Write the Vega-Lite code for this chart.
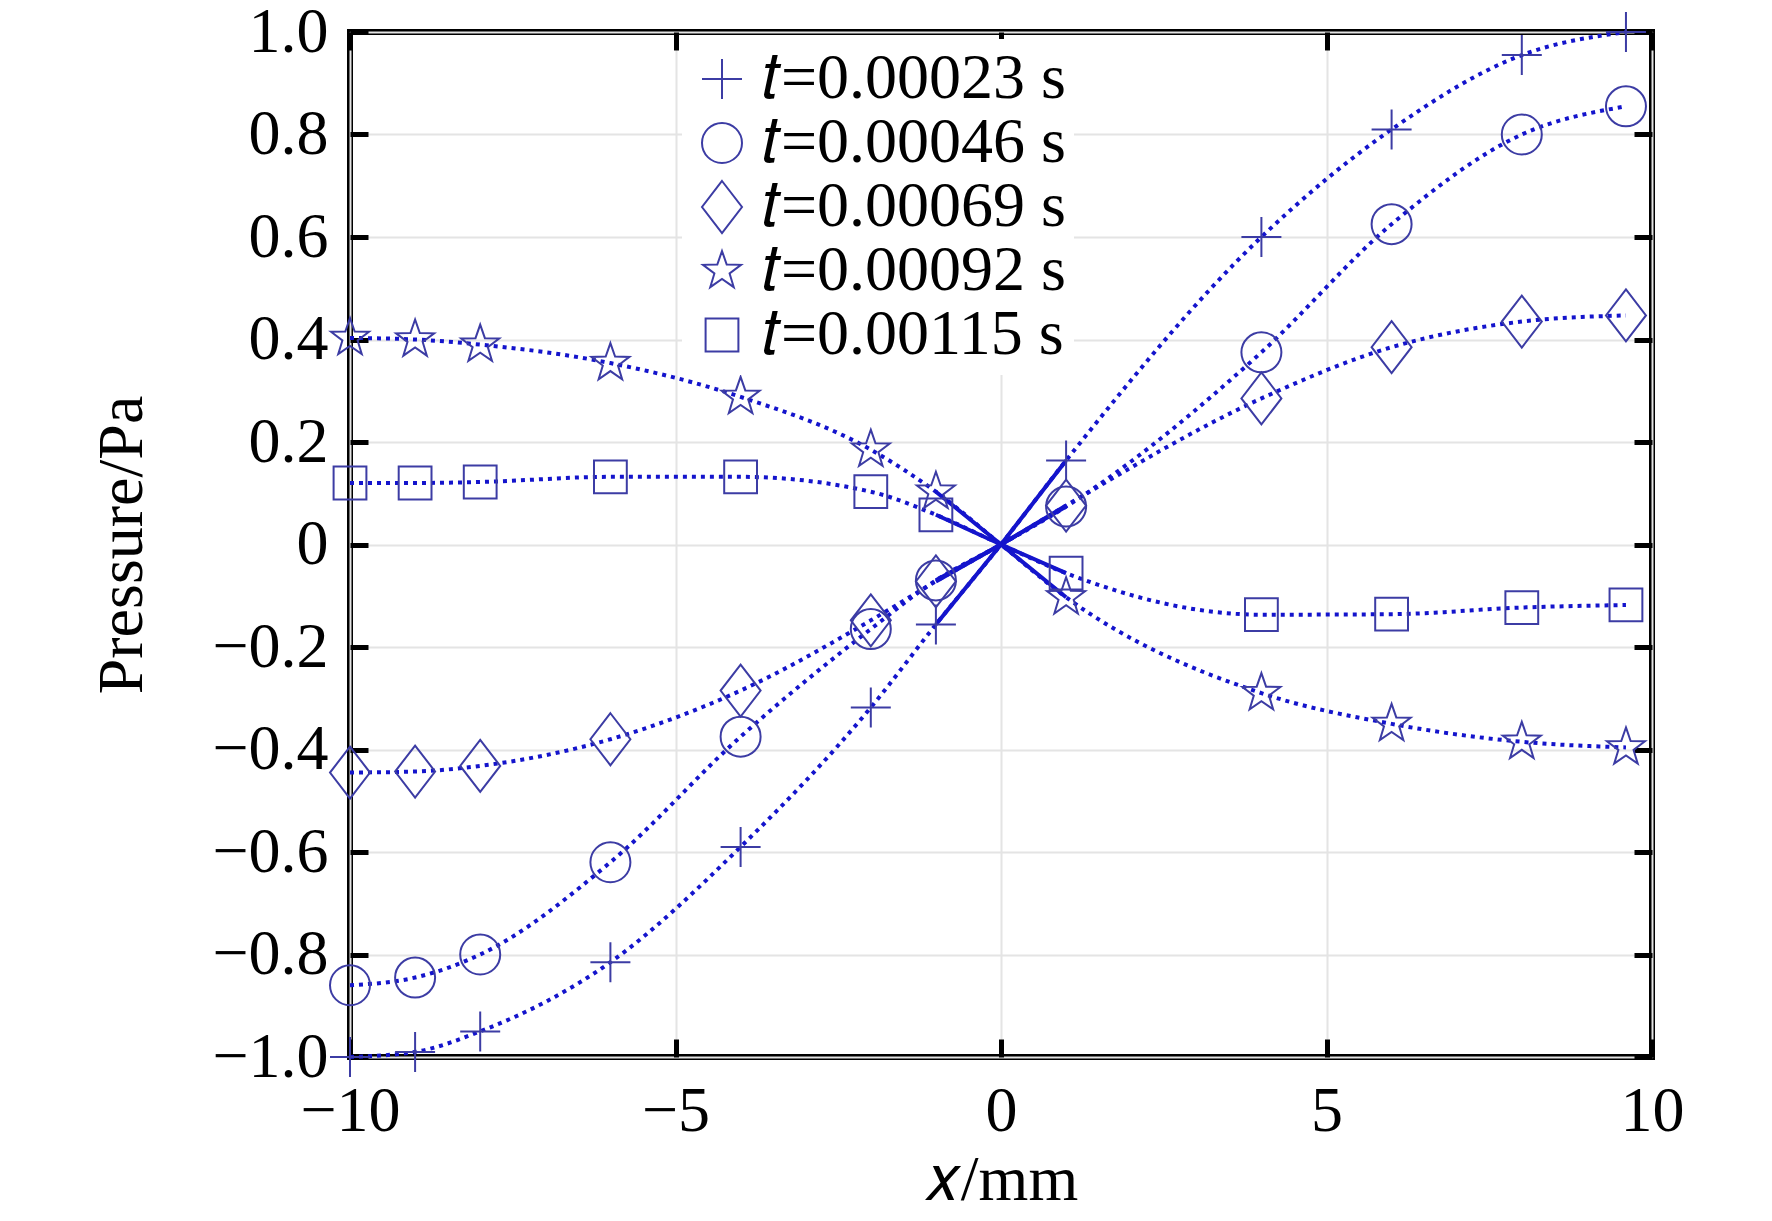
{
  "$schema": "https://vega.github.io/schema/vega-lite/v6.json",
  "width": 1302,
  "height": 1025,
  "autosize": "none",
  "padding": {"left": 350, "top": 32, "right": 120, "bottom": 164},
  "background": "white",
  "data": {
    "values": [
      {"t": "𝑡=0.00023 s", "x": -10, "p": -1.0},
      {"t": "𝑡=0.00023 s", "x": -9, "p": -0.99},
      {"t": "𝑡=0.00023 s", "x": -8, "p": -0.95},
      {"t": "𝑡=0.00023 s", "x": -6, "p": -0.815},
      {"t": "𝑡=0.00023 s", "x": -4, "p": -0.59},
      {"t": "𝑡=0.00023 s", "x": -2, "p": -0.318},
      {"t": "𝑡=0.00023 s", "x": -1, "p": -0.156},
      {"t": "𝑡=0.00023 s", "x": 0, "p": 0},
      {"t": "𝑡=0.00023 s", "x": 1, "p": 0.164},
      {"t": "𝑡=0.00023 s", "x": 4, "p": 0.6},
      {"t": "𝑡=0.00023 s", "x": 6, "p": 0.81},
      {"t": "𝑡=0.00023 s", "x": 8, "p": 0.955},
      {"t": "𝑡=0.00023 s", "x": 9.6, "p": 1.0},
      {"t": "𝑡=0.00046 s", "x": -10, "p": -0.86},
      {"t": "𝑡=0.00046 s", "x": -9, "p": -0.845},
      {"t": "𝑡=0.00046 s", "x": -8, "p": -0.8},
      {"t": "𝑡=0.00046 s", "x": -6, "p": -0.62},
      {"t": "𝑡=0.00046 s", "x": -4, "p": -0.375},
      {"t": "𝑡=0.00046 s", "x": -2, "p": -0.165},
      {"t": "𝑡=0.00046 s", "x": -1, "p": -0.07},
      {"t": "𝑡=0.00046 s", "x": 0, "p": 0},
      {"t": "𝑡=0.00046 s", "x": 1, "p": 0.074},
      {"t": "𝑡=0.00046 s", "x": 4, "p": 0.375},
      {"t": "𝑡=0.00046 s", "x": 6, "p": 0.625},
      {"t": "𝑡=0.00046 s", "x": 8, "p": 0.8},
      {"t": "𝑡=0.00046 s", "x": 9.6, "p": 0.855},
      {"t": "𝑡=0.00069 s", "x": -10, "p": -0.445},
      {"t": "𝑡=0.00069 s", "x": -9, "p": -0.443},
      {"t": "𝑡=0.00069 s", "x": -8, "p": -0.432},
      {"t": "𝑡=0.00069 s", "x": -6, "p": -0.38},
      {"t": "𝑡=0.00069 s", "x": -4, "p": -0.285},
      {"t": "𝑡=0.00069 s", "x": -2, "p": -0.148},
      {"t": "𝑡=0.00069 s", "x": -1, "p": -0.072},
      {"t": "𝑡=0.00069 s", "x": 0, "p": 0},
      {"t": "𝑡=0.00069 s", "x": 1, "p": 0.076},
      {"t": "𝑡=0.00069 s", "x": 4, "p": 0.285},
      {"t": "𝑡=0.00069 s", "x": 6, "p": 0.385},
      {"t": "𝑡=0.00069 s", "x": 8, "p": 0.435},
      {"t": "𝑡=0.00069 s", "x": 9.6, "p": 0.447},
      {"t": "𝑡=0.00092 s", "x": -10, "p": 0.403},
      {"t": "𝑡=0.00092 s", "x": -9, "p": 0.4},
      {"t": "𝑡=0.00092 s", "x": -8, "p": 0.39},
      {"t": "𝑡=0.00092 s", "x": -6, "p": 0.354},
      {"t": "𝑡=0.00092 s", "x": -4, "p": 0.288},
      {"t": "𝑡=0.00092 s", "x": -2, "p": 0.185},
      {"t": "𝑡=0.00092 s", "x": -1, "p": 0.103},
      {"t": "𝑡=0.00092 s", "x": 0, "p": 0},
      {"t": "𝑡=0.00092 s", "x": 1, "p": -0.103},
      {"t": "𝑡=0.00092 s", "x": 4, "p": -0.29},
      {"t": "𝑡=0.00092 s", "x": 6, "p": -0.35},
      {"t": "𝑡=0.00092 s", "x": 8, "p": -0.385},
      {"t": "𝑡=0.00092 s", "x": 9.6, "p": -0.396},
      {"t": "𝑡=0.00115 s", "x": -10, "p": 0.12},
      {"t": "𝑡=0.00115 s", "x": -9, "p": 0.12},
      {"t": "𝑡=0.00115 s", "x": -8, "p": 0.122},
      {"t": "𝑡=0.00115 s", "x": -6, "p": 0.132},
      {"t": "𝑡=0.00115 s", "x": -4, "p": 0.132},
      {"t": "𝑡=0.00115 s", "x": -2, "p": 0.103},
      {"t": "𝑡=0.00115 s", "x": -1, "p": 0.058},
      {"t": "𝑡=0.00115 s", "x": 0, "p": 0},
      {"t": "𝑡=0.00115 s", "x": 1, "p": -0.056},
      {"t": "𝑡=0.00115 s", "x": 4, "p": -0.137},
      {"t": "𝑡=0.00115 s", "x": 6, "p": -0.136},
      {"t": "𝑡=0.00115 s", "x": 8, "p": -0.123},
      {"t": "𝑡=0.00115 s", "x": 9.6, "p": -0.118}
    ]
  },
  "layer": [
    {
      "mark": {"type": "line", "color": "#1414cc", "strokeWidth": 4, "strokeDash": [4, 5], "interpolate": "monotone"},
      "encoding": {
        "x": {"field": "x", "type": "quantitative", "scale": {"domain": [-10, 10], "nice": false}, "axis": null},
        "y": {"field": "p", "type": "quantitative", "scale": {"domain": [-1, 1], "nice": false}, "axis": null},
        "detail": {"field": "t"}
      }
    },
    {
      "transform": [{"filter": "abs(datum.x) <= 1"}],
      "mark": {"type": "line", "color": "#1414cc", "strokeWidth": 4},
      "encoding": {
        "x": {"field": "x", "type": "quantitative", "axis": null},
        "y": {"field": "p", "type": "quantitative", "axis": null},
        "detail": {"field": "t"}
      }
    },
    {
      "transform": [{"filter": "datum.x != 0"}],
      "mark": {"type": "point", "filled": false, "color": "#3c3ca4", "strokeWidth": 2, "size": 1600, "opacity": 1},
      "encoding": {
        "x": {
          "field": "x", "type": "quantitative",
          "axis": {"values": [-10, -5, 0, 5, 10], "format": "d", "title": "𝑥/mm", "grid": true, "tickSize": -18, "labelPadding": 40, "labelFlush": false, "titlePadding": 5}
        },
        "y": {
          "field": "p", "type": "quantitative",
          "axis": {"values": [-1, -0.8, -0.6, -0.4, -0.2, 0, 0.2, 0.4, 0.6, 0.8, 1], "format": ".1f", "labelExpr": "datum.value == 0 ? '0' : datum.label", "title": "Pressure/Pa", "grid": true, "tickSize": -18, "labelPadding": 40, "labelFlush": false, "titlePadding": 57}
        },
        "shape": {
          "field": "t", "type": "nominal",
          "scale": {
            "domain": ["𝑡=0.00023 s", "𝑡=0.00046 s", "𝑡=0.00069 s", "𝑡=0.00092 s", "𝑡=0.00115 s"],
            "range": [
              "M-1,0H1M0,-1V1",
              "circle",
              "M0,-1.3L1,0L0,1.3L-1,0Z",
              "M0,-1L0.235,-0.324L0.951,-0.309L0.38,0.124L0.588,0.809L0,0.4L-0.588,0.809L-0.38,0.124L-0.951,-0.309L-0.235,-0.324Z",
              "M-0.82,-0.82H0.82V0.82H-0.82Z"
            ]
          },
          "legend": {
            "title": null, "orient": "none", "legendX": 332, "legendY": 7,
            "fillColor": "white", "padding": 8, "symbolSize": 1600,
            "symbolStrokeColor": "#3c3ca4", "symbolStrokeWidth": 2, "symbolFillColor": "transparent",
            "labelFont": "Liberation Serif", "labelFontSize": 64, "labelColor": "black",
            "labelOffset": 8, "labelLimit": 600, "rowPadding": 0
          }
        }
      }
    },
    {
      "mark": {"type": "point", "opacity": 0},
      "encoding": {
        "x": {"field": "x", "type": "quantitative", "axis": {"orient": "top", "values": [-10, -5, 0, 5, 10], "labels": false, "title": null, "grid": false, "tickSize": -18}},
        "y": {"field": "p", "type": "quantitative", "axis": {"orient": "right", "values": [-1, -0.8, -0.6, -0.4, -0.2, 0, 0.2, 0.4, 0.6, 0.8, 1], "labels": false, "title": null, "grid": false, "tickSize": -18}}
      }
    }
  ],
  "resolve": {"axis": {"x": "independent", "y": "independent"}},
  "config": {
    "view": {"stroke": "black", "strokeWidth": 6},
    "axis": {
      "domain": false,
      "labelFont": "Liberation Serif", "labelFontSize": 64, "labelColor": "black",
      "titleFont": "Liberation Serif", "titleFontSize": 64, "titleFontWeight": "normal", "titleColor": "black",
      "tickColor": "black", "tickWidth": 5,
      "gridColor": "#e4e4e4", "gridWidth": 2
    }
  }
}
